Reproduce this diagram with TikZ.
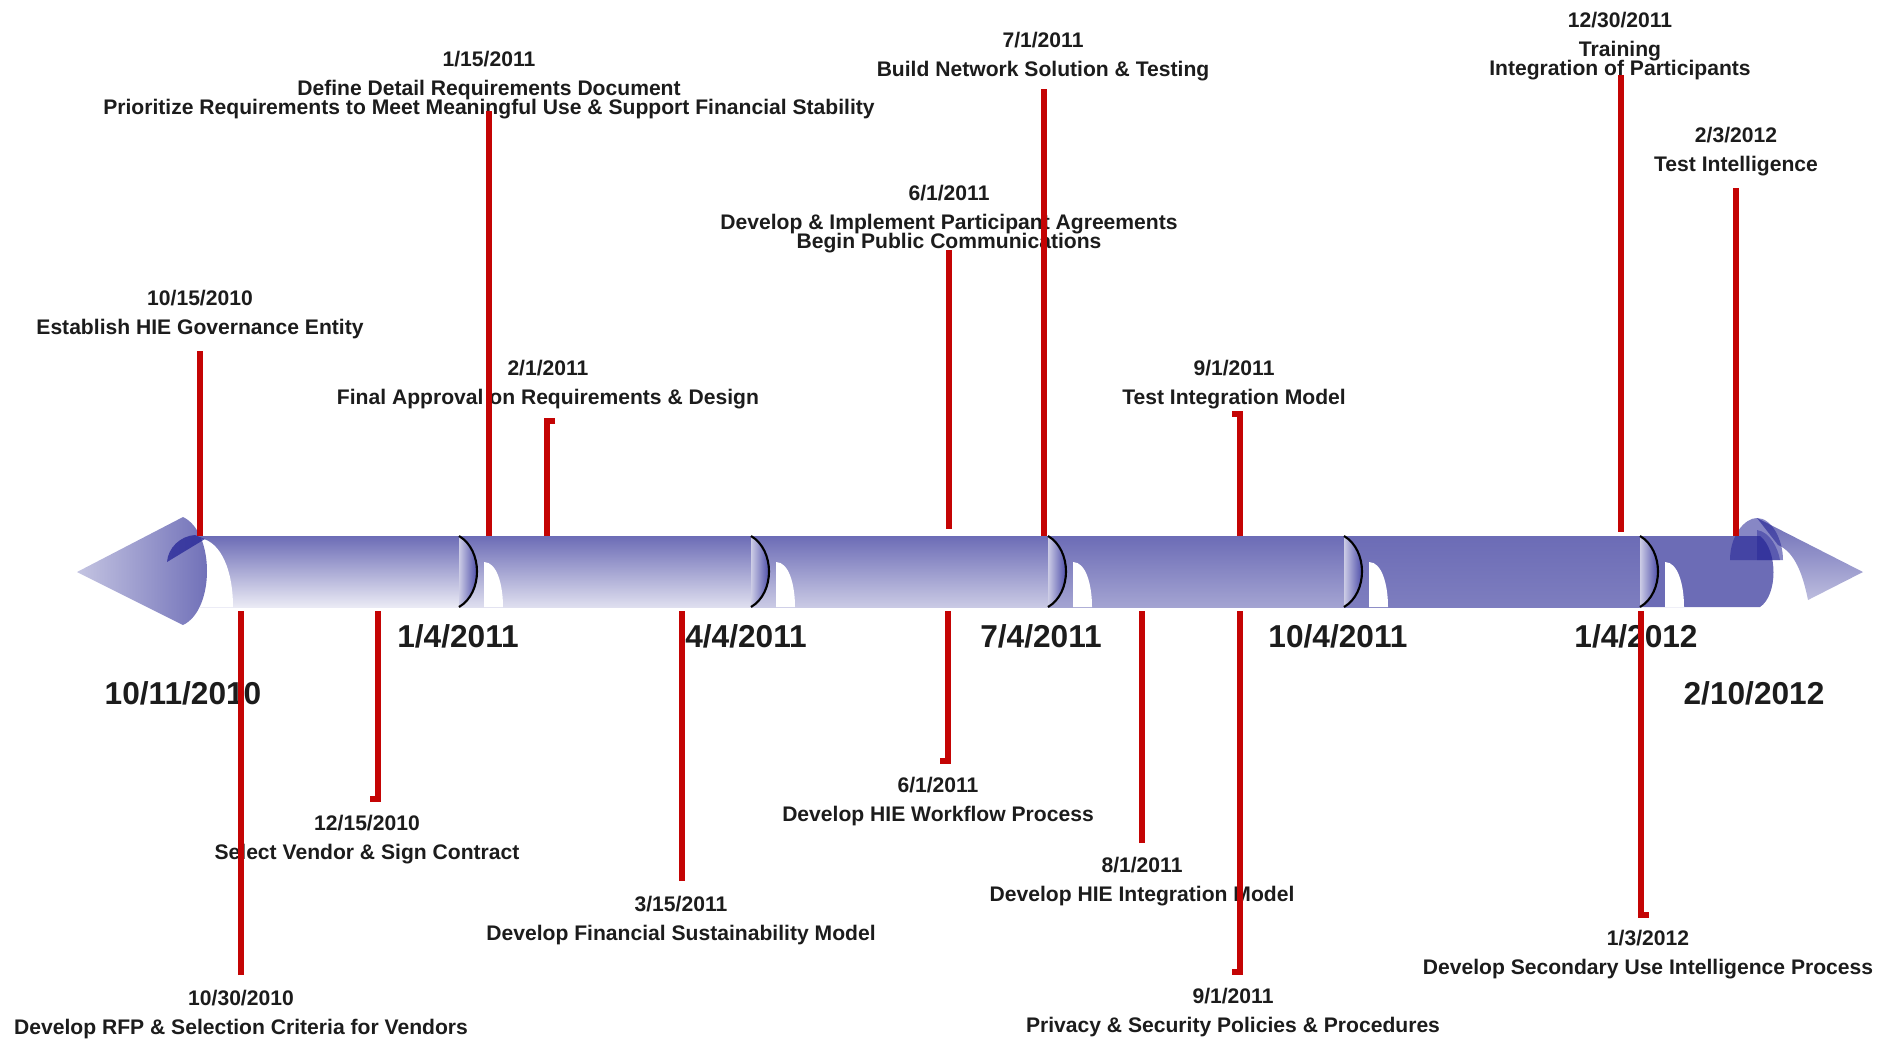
\documentclass[tikz,border=0pt]{standalone}
\usepackage{fontspec}
\setmainfont{Liberation Sans}
\usepackage{xcolor}
\usepackage{tikz}
\usetikzlibrary{positioning}
\definecolor{barblue}{RGB}{108,108,182}
\definecolor{deepblue}{RGB}{36,36,150}
\definecolor{msred}{RGB}{196,4,4}
\definecolor{labelgray}{RGB}{28,28,28}
\newcommand\msfont{\fontsize{6}{5.4}\selectfont\bfseries\lineskiplimit=-10pt\relax}

\begin{document}
\begin{tikzpicture}[x=0.01cm, y=-0.01cm,
  mslabel/.style={inner sep=0pt, anchor=north, align=center, text=labelgray, font=\msfont},
  axislabel/.style={inner sep=0pt, text=labelgray, font=\fontsize{9}{10}\selectfont\bfseries},
  msline/.style={draw=msred, line width=1.7pt},
  divider/.style={draw=black, line width=0.6pt}]
\useasboundingbox (0,0) rectangle (1893,1038);
\coordinate (bartop) at (0,536);
\coordinate (barbot) at (0,611);
% bar segments
\foreach \xa/\xb/\lt in {200/459/14, 459/751/22, 751/1048/36, 1048/1344/62, 1344/1640/88}
  \shade[top color=barblue, bottom color=barblue!\lt!white] (\xa,536) rectangle (\xb,607);
\fill[barblue] (1640,536) -- (1760,536) .. controls (1778,550) and (1778,595) .. (1760,607) -- (1640,607) -- cycle;
\foreach \x in {459,751,1048,1344,1640} {
  \shade[left color=barblue!35!white, right color=deepblue] (\x,536) .. controls (\x+24,550) and (\x+24,593) .. (\x,607) -- cycle;
  \draw[divider] (\x,536) .. controls (\x+24,550) and (\x+24,593) .. (\x,607);
  \fill[white] (\x+25,607) -- (\x+25,562) .. controls (\x+38,562) and (\x+44,585) .. (\x+44,607) -- cycle;
}
% arrow ends
\fill[white] (200,607) -- (200,538) .. controls (222,542) and (233,572) .. (233,607) -- cycle;
\shade[left color=barblue!40!white, right color=barblue] (77,572) -- (183,517) .. controls (215,532) and (215,610) .. (183,625) -- cycle;
\fill[deepblue, opacity=0.75] (205,539) -- (167,562) .. controls (168,548) and (180,536) .. (195,535) -- cycle;
\shade[top color=barblue, bottom color=barblue!45!white] (1757,518) -- (1863,572) -- (1808,600) .. controls (1803,575) and (1795,552) .. (1778,545) -- cycle;
\fill[deepblue, opacity=0.55] (1730,560) .. controls (1730,535) and (1745,518) .. (1757,518) .. controls (1772,518) and (1783,540) .. (1783,560) -- cycle;
\fill[deepblue, opacity=0.45] (1757,560) -- (1757,530) .. controls (1770,532) and (1778,548) .. (1780,560) -- cycle;
% axis dates
\node[axislabel] (d1) at (183,693) {10/11/2010};
\node[axislabel] (d2) at (458,636) {1/4/2011};
\node[axislabel] (d3) at (746,636) {4/4/2011};
\node[axislabel] (d4) at (1041,636) {7/4/2011};
\node[axislabel] (d5) at (1338,636) {10/4/2011};
\node[axislabel] (d6) at (1636,636) {1/4/2012};
\node[axislabel] (d7) at (1754,693) {2/10/2012};
% milestones above
\node[mslabel] (m1) at (200,289.5) {10/15/2010\\[2.85pt]Establish HIE Governance Entity};
\node[mslabel] (m2) at (489,50.5) {1/15/2011\\[2.85pt]Define Detail Requirements Document\\Prioritize Requirements to Meet Meaningful Use \& Support Financial Stability};
\node[mslabel] (m3) at (548,359.5) {2/1/2011\\[2.85pt]Final Approval on Requirements \& Design};
\node[mslabel] (m4) at (949,184.5) {6/1/2011\\[2.85pt]Develop \& Implement Participant Agreements\\Begin Public Communications};
\node[mslabel] (m5) at (1043,31.5) {7/1/2011\\[2.85pt]Build Network Solution \& Testing};
\node[mslabel] (m6) at (1234,359.5) {9/1/2011\\[2.85pt]Test Integration Model};
\node[mslabel] (m7) at (1620,11.5) {12/30/2011\\[2.85pt]Training\\Integration of Participants};
\node[mslabel] (m8) at (1736,126.5) {2/3/2012\\[2.85pt]Test Intelligence};
% milestones below
\node[mslabel] (m9) at (241,989.5) {10/30/2010\\[2.85pt]Develop RFP \& Selection Criteria for Vendors};
\node[mslabel] (m10) at (367,814.5) {12/15/2010\\[2.85pt]Select Vendor \& Sign Contract};
\node[mslabel] (m11) at (681,895.5) {3/15/2011\\[2.85pt]Develop Financial Sustainability Model};
\node[mslabel] (m12) at (938,776.5) {6/1/2011\\[2.85pt]Develop HIE Workflow Process};
\node[mslabel] (m13) at (1142,856.5) {8/1/2011\\[2.85pt]Develop HIE Integration Model};
\node[mslabel] (m14) at (1233,987.5) {9/1/2011\\[2.85pt]Privacy \& Security Policies \& Procedures};
\node[mslabel] (m15) at (1648,929.5) {1/3/2012\\[2.85pt]Develop Secondary Use Intelligence Process};
% stems
\coordinate (e1) at (200,351);
\coordinate (e2) at (489,111);
\coordinate (e3) at (547,421);
\coordinate (e4) at (949,250);
\coordinate (e5) at (1044,92);
\coordinate (e6) at (1240,414);
\coordinate (e7) at (1621,75);
\coordinate (e8) at (1736,188);
\coordinate (e9) at (241,975);
\coordinate (e10) at (378,799);
\coordinate (e11) at (682,881);
\coordinate (e12) at (948,761);
\coordinate (e13) at (1142,843);
\coordinate (e14) at (1240,972);
\coordinate (e15) at (1641,915);
\draw[msline] (e1) -- (e1 |- bartop);
\draw[msline] (e2) -- (e2 |- bartop);
\draw[msline] (e3) ++(8,0) -- (e3) -- (e3 |- bartop);
\draw[msline] (e4) -- ++(0,279);
\draw[msline] (e5) ++(3,0) -- (e5) -- (e5 |- bartop);
\draw[msline] (e6) ++(-8,0) -- (e6) -- (e6 |- bartop);
\draw[msline] (e7) -- ++(0,457);
\draw[msline] (e8) -- (e8 |- bartop);
\draw[msline] (e9) -- (e9 |- barbot);
\draw[msline] (e10) ++(-8,0) -- (e10) -- (e10 |- barbot);
\draw[msline] (e11) -- (e11 |- barbot);
\draw[msline] (e12) ++(-8,0) -- (e12) -- (e12 |- barbot);
\draw[msline] (e13) -- (e13 |- barbot);
\draw[msline] (e14) ++(-8,0) -- (e14) -- (e14 |- barbot);
\draw[msline] (e15) ++(8,0) -- (e15) -- (e15 |- barbot);
\end{tikzpicture}
\end{document}
